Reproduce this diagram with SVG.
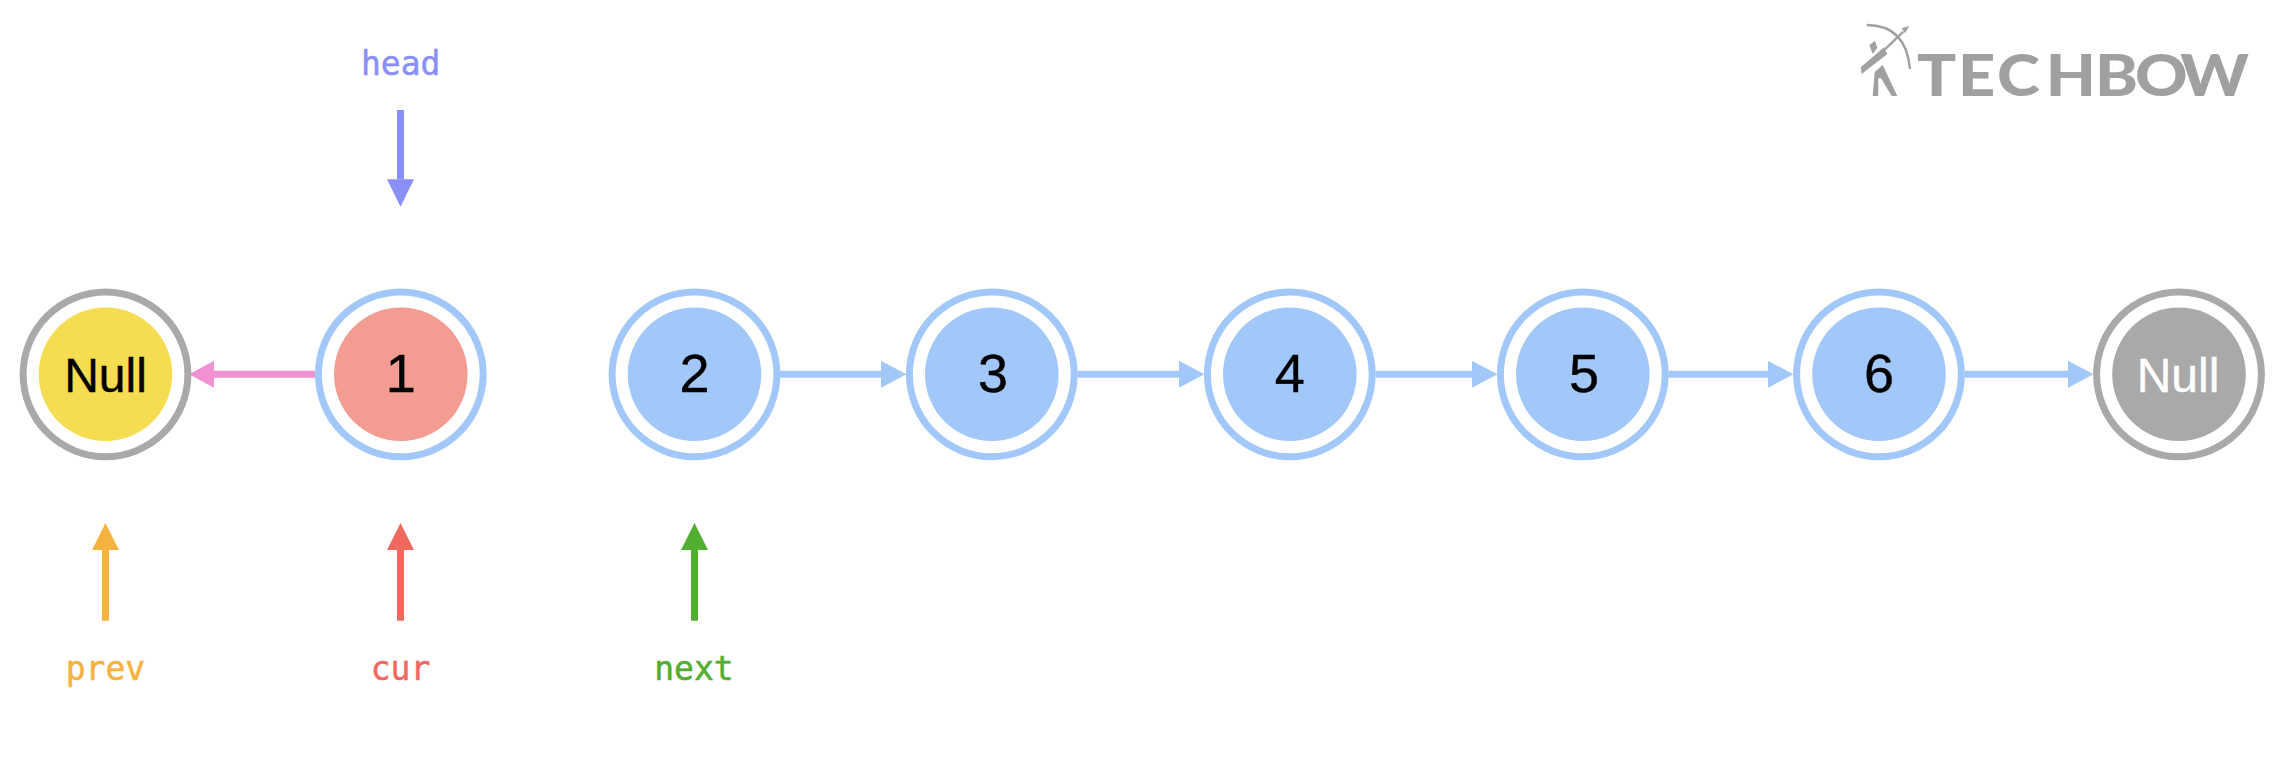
<svg xmlns="http://www.w3.org/2000/svg" width="2286" height="758" viewBox="0 0 2286 758">
<style>
.ring{fill:#fff;stroke-width:7}
.rb{stroke:#a2c8fa}.rg{stroke:#a9a9a9}
.num{font:54px "Liberation Sans",Arial,sans-serif;text-anchor:middle;fill:#000;stroke:#000;stroke-width:.4}
.nul{font:48px "Liberation Sans",Arial,sans-serif;text-anchor:middle;stroke-width:.4}
.lab{font:33px "DejaVu Sans Mono",monospace;text-anchor:middle;stroke-width:.5}
.edge{stroke-width:7;fill:none}
</style>
<defs>
<marker id="mb" markerUnits="userSpaceOnUse" markerWidth="26" markerHeight="27" refX="0" refY="13.5" orient="auto"><path d="M0 0L25.5 13.5L0 27Z" fill="#a2c8fa"/></marker>
<marker id="mp" markerUnits="userSpaceOnUse" markerWidth="26" markerHeight="27" refX="0" refY="13.5" orient="auto"><path d="M0 0L25 13.5L0 27Z" fill="#f091d2"/></marker>
<marker id="mh" markerUnits="userSpaceOnUse" markerWidth="28" markerHeight="27" refX="0" refY="13.5" orient="auto"><path d="M0 0L27.4 13.5L0 27Z" fill="#8a8ff8"/></marker>
<marker id="mo" markerUnits="userSpaceOnUse" markerWidth="28" markerHeight="27" refX="0" refY="13.5" orient="auto"><path d="M0 0L27 13.5L0 27Z" fill="#f5b23f"/></marker>
<marker id="mr" markerUnits="userSpaceOnUse" markerWidth="28" markerHeight="27" refX="0" refY="13.5" orient="auto"><path d="M0 0L27 13.5L0 27Z" fill="#f0695f"/></marker>
<marker id="mg" markerUnits="userSpaceOnUse" markerWidth="28" markerHeight="27" refX="0" refY="13.5" orient="auto"><path d="M0 0L27 13.5L0 27Z" fill="#52ae30"/></marker>
</defs>
<rect width="2286" height="758" fill="#fff"/>
<g id="connectors">
<path class="edge" stroke="#f091d2" d="M315 374.3H214" marker-end="url(#mp)"/>
<path class="edge" stroke="#a2c8fa" d="M780 374.3H881" marker-end="url(#mb)"/>
<path class="edge" stroke="#a2c8fa" d="M1077.5 374.3H1179" marker-end="url(#mb)"/>
<path class="edge" stroke="#a2c8fa" d="M1375.5 374.3H1472" marker-end="url(#mb)"/>
<path class="edge" stroke="#a2c8fa" d="M1668.5 374.3H1768" marker-end="url(#mb)"/>
<path class="edge" stroke="#a2c8fa" d="M1964.5 374.3H2068" marker-end="url(#mb)"/>
<path class="edge" stroke="#8a8ff8" d="M400.5 110V179.3" marker-end="url(#mh)"/>
<path class="edge" stroke="#f5b23f" d="M105.5 620.7V550" marker-end="url(#mo)"/>
<path class="edge" stroke="#f0695f" d="M400.5 620.7V550" marker-end="url(#mr)"/>
<path class="edge" stroke="#52ae30" d="M694.5 620.7V550" marker-end="url(#mg)"/>
</g>
<g id="node-null-left"><circle class="ring rg" cx="105.5" cy="374.3" r="82.4"/><circle cx="105.5" cy="374.3" r="66.8" fill="#f5dc50"/><text class="nul" x="105.5" y="392.3" fill="#000" stroke="#000">Null</text></g>
<g id="node-1"><circle class="ring rb" cx="400.8" cy="374.3" r="82.4"/><circle cx="400.8" cy="374.3" r="66.8" fill="#f39c91"/><text class="num" x="400.8" y="392.3">1</text></g>
<g id="node-2"><circle class="ring rb" cx="694.5" cy="374.3" r="82.4"/><circle cx="694.5" cy="374.3" r="66.8" fill="#a2c8fa"/><text class="num" x="694.5" y="392.3">2</text></g>
<g id="node-3"><circle class="ring rb" cx="991.8" cy="374.3" r="82.4"/><circle cx="991.8" cy="374.3" r="66.8" fill="#a2c8fa"/><text class="num" x="993" y="392.3">3</text></g>
<g id="node-4"><circle class="ring rb" cx="1289.8" cy="374.3" r="82.4"/><circle cx="1289.8" cy="374.3" r="66.8" fill="#a2c8fa"/><text class="num" x="1289.8" y="392.3">4</text></g>
<g id="node-5"><circle class="ring rb" cx="1582.8" cy="374.3" r="82.4"/><circle cx="1582.8" cy="374.3" r="66.8" fill="#a2c8fa"/><text class="num" x="1584" y="392.3">5</text></g>
<g id="node-6"><circle class="ring rb" cx="1879" cy="374.3" r="82.4"/><circle cx="1879" cy="374.3" r="66.8" fill="#a2c8fa"/><text class="num" x="1879" y="392.3">6</text></g>
<g id="node-null-right"><circle class="ring rg" cx="2179" cy="374.3" r="82.4"/><circle cx="2179" cy="374.3" r="66.8" fill="#a9a9a9"/><text class="nul" x="2178" y="392.3" fill="#fff" stroke="#fff">Null</text></g>
<g id="pointer-head"><text class="lab" x="400.7" y="75" fill="#8a8ff8" stroke="#8a8ff8">head</text></g>
<g id="pointer-prev"><text class="lab" x="105.5" y="680" fill="#f5b23f" stroke="#f5b23f">prev</text></g>
<g id="pointer-cur"><text class="lab" x="400.5" y="680" fill="#f0695f" stroke="#f0695f">cur</text></g>
<g id="pointer-next"><text class="lab" x="694" y="680" fill="#52ae30" stroke="#52ae30">next</text></g>
<g id="logo" fill="#a0a0a0">
<path d="M1866.7 25Q1906 25 1910 69" fill="none" stroke="#a0a0a0" stroke-width="2.4"/>
<path d="M1885 49.3L1903.3 31.7" fill="none" stroke="#a0a0a0" stroke-width="2.4"/>
<path d="M1860.7 67.3L1861.7 74L1887.3 54L1884 47.3Z"/>
<path d="M1909.3 26L1901.7 28.3L1905 33.3Z"/>
<path d="M1869.3 45L1875 41L1877.3 47.7L1872.7 54Z"/>
<path d="M1874.7 72L1882.7 65L1897.3 96H1891.7L1881 78.3H1878.3L1878.3 96H1872.7Z"/>
<text transform="translate(1917 96) scale(1.12 1)" y="0" font-family="Lato,'Liberation Sans',sans-serif" font-weight="900" font-size="58" x="0 36.6 71.4 115 159 194.6 235">TECHBOW</text>
</g>
</svg>
